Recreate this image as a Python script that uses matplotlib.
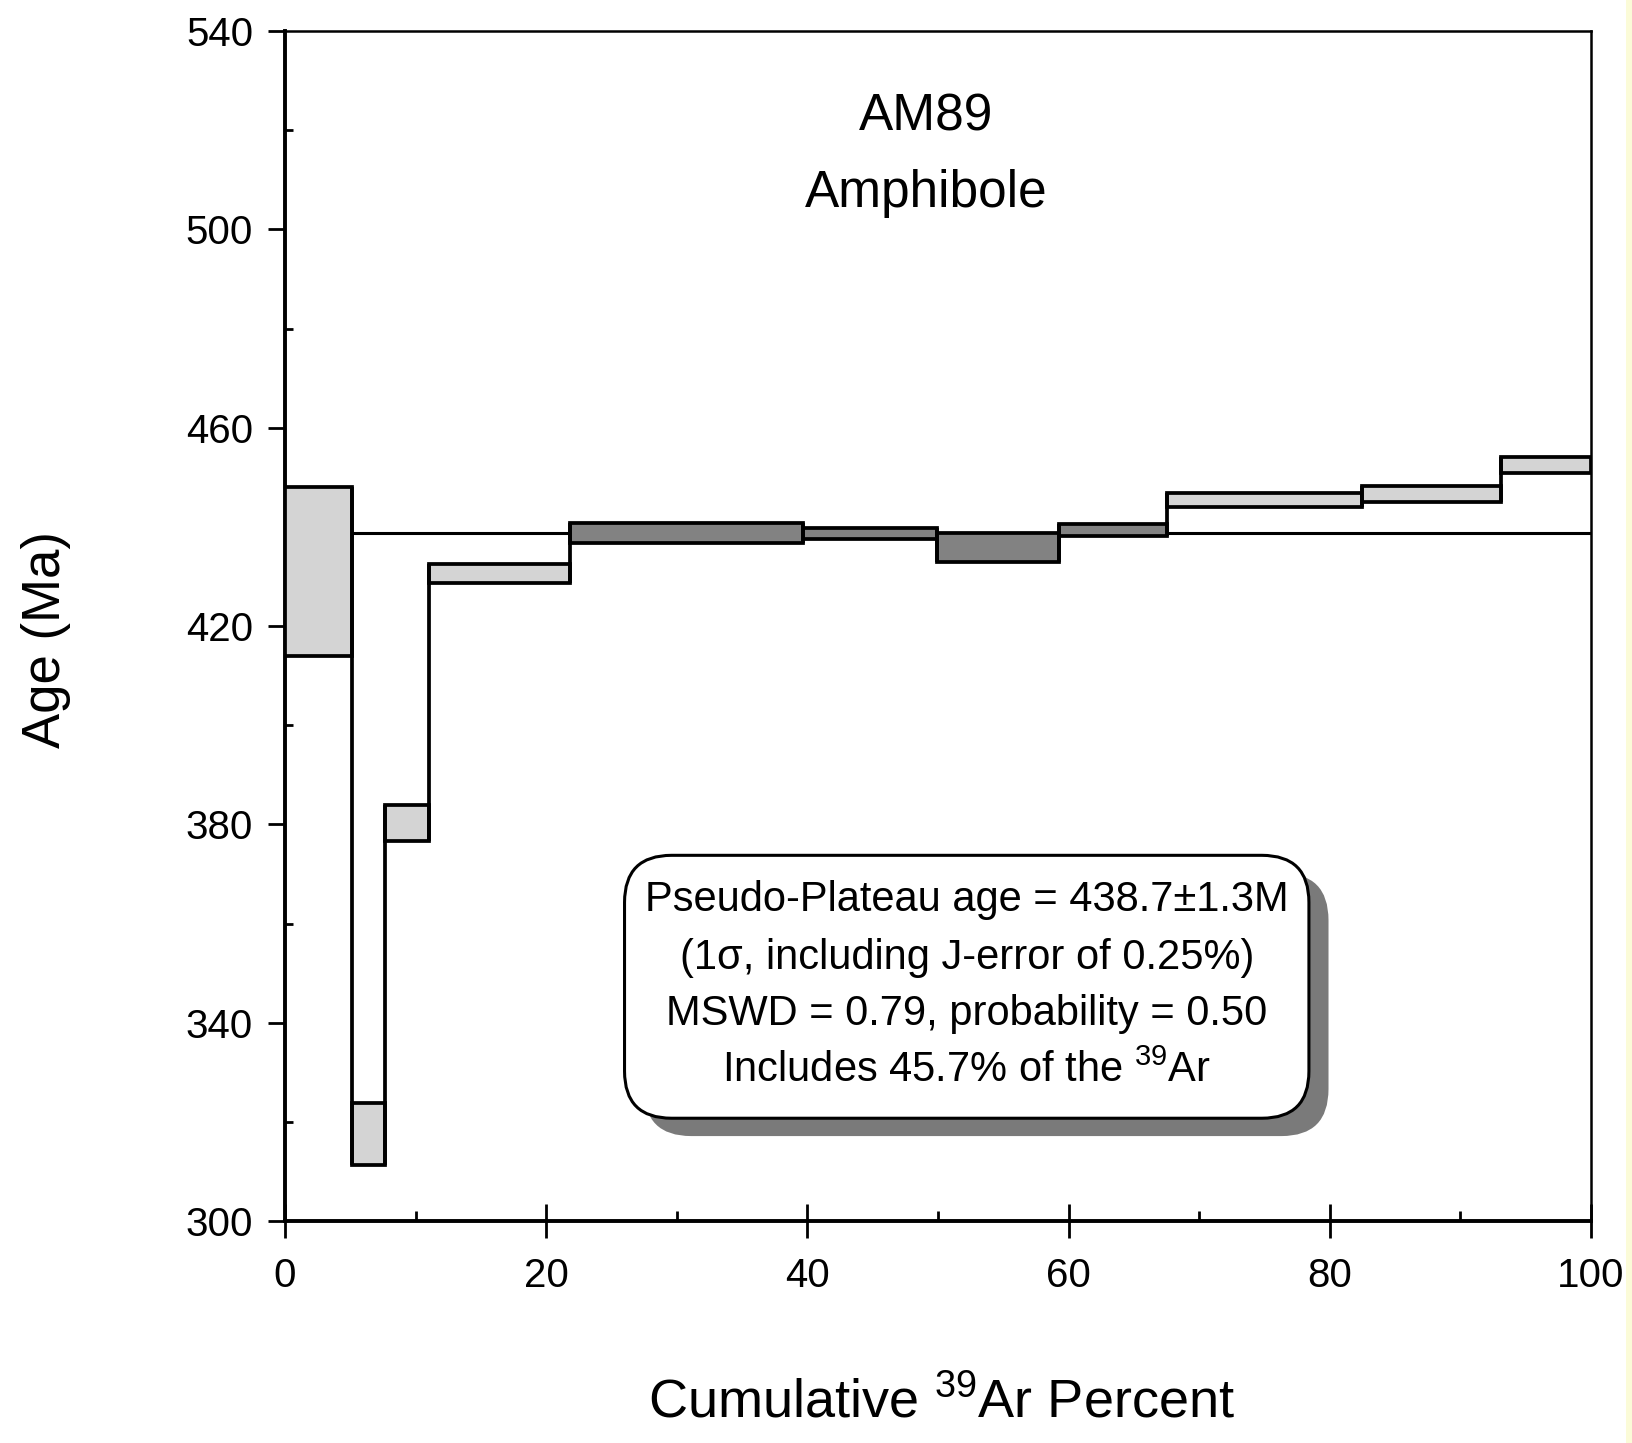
import numpy as np
import matplotlib
matplotlib.use("Agg")
import matplotlib.pyplot as plt
from matplotlib.patches import Rectangle, FancyBboxPatch

plt.rcParams['font.family'] = ['Liberation Sans', 'DejaVu Sans']
plt.rcParams['mathtext.default'] = 'regular'

# step heating data
x_edges = [0, 5.1, 7.66, 11.05, 21.8, 39.7, 49.9, 59.3, 67.5, 82.5, 93.1, 100]
age_hi = [448.0, 323.8, 384.0, 432.6, 440.8, 439.8, 438.8, 440.6, 446.8, 448.2, 454.1]
age_lo = [414.0, 311.3, 376.6, 428.7, 436.8, 437.6, 433.0, 438.1, 444.0, 445.0, 450.8]
in_plateau = [False, False, False, False, True, True, True, True, False, False, False]
plateau_age = 438.7

sample_name = "AM89"
mineral = "Amphibole"
box_lines = ["Pseudo-Plateau age = 438.7±1.3M",
             "(1σ, including J-error of 0.25%)",
             "MSWD = 0.79, probability = 0.50",
             "Includes 45.7% of the $^{39}$Ar"]

light = "#d4d4d4"
dark = "#828282"

fig = plt.figure(figsize=(16.32, 14.43), dpi=100)
ax = fig.add_axes([0.1746, 0.1538, 0.8003, 0.8247])
ax.set_xlim(0, 100)
ax.set_ylim(300, 540)

# plateau line
ax.axhline(plateau_age, color="black", lw=2.2, zorder=2)

for i in range(len(age_hi)):
    x0 = x_edges[i]
    w = x_edges[i + 1] - x_edges[i]
    col = dark if in_plateau[i] else light
    ax.add_patch(Rectangle((x0, age_lo[i]), w, age_hi[i] - age_lo[i],
                           facecolor=col, edgecolor="black", lw=2.7, zorder=3))
# connectors between steps
for i in range(len(age_hi) - 1):
    lo = min(age_lo[i], age_lo[i + 1])
    hi = max(age_hi[i], age_hi[i + 1])
    ax.vlines(x_edges[i + 1], lo, hi, color="black", lw=2.7, zorder=3)

# title text
ax.text(49.1, 522.7, sample_name, ha="center", va="center", fontsize=37)
ax.text(49.1, 507.3, mineral, ha="center", va="center", fontsize=37)

# rounded text box with shadow
bx0, bx1 = 27.2, 77.2
by0, by1 = 323.9, 370.6
asp = 13.06 / 4.958
shadow = FancyBboxPatch((bx0 + 1.5, by0 - 3.6), bx1 - bx0, by1 - by0,
                        boxstyle="round,pad=1.2,rounding_size=3.6",
                        mutation_aspect=asp, facecolor="#7a7a7a",
                        edgecolor="none", zorder=4)
box = FancyBboxPatch((bx0, by0), bx1 - bx0, by1 - by0,
                     boxstyle="round,pad=1.2,rounding_size=3.6",
                     mutation_aspect=asp, facecolor="white",
                     edgecolor="black", lw=2.2, zorder=5)
ax.add_patch(shadow)
ax.add_patch(box)
line_y = [364.7, 353.0, 341.7, 330.4]
for s, yy in zip(box_lines, line_y):
    ax.text(52.2, yy, s, ha="center", va="center", fontsize=30, zorder=6)

# axes styling
ax.set_yticks(np.arange(300, 541, 40))
ax.set_yticks(np.arange(320, 540, 40), minor=True)
ax.set_xticks(np.arange(0, 101, 20))
ax.set_xticks(np.arange(10, 100, 20), minor=True)
ax.tick_params(axis="y", which="major", direction="out", length=12, width=2,
               labelsize=29, pad=11)
ax.tick_params(axis="y", which="minor", direction="in", length=6, width=2)
ax.tick_params(axis="x", which="major", direction="inout", length=24, width=2,
               labelsize=29, pad=14)
ax.tick_params(axis="x", which="minor", direction="in", length=7, width=2)
ax.spines["left"].set_linewidth(2.8)
ax.spines["bottom"].set_linewidth(2.8)
ax.spines["top"].set_linewidth(1.8)
ax.spines["right"].set_linewidth(1.8)

fig.text(0.028, 0.557, "Age (Ma)", rotation=90, ha="center", va="center",
         fontsize=38)
fig.text(0.577, 0.028, "Cumulative $^{39}$Ar Percent", ha="center",
         va="center", fontsize=39)

# thin yellowish strip at the right edge
fig.patches.append(Rectangle((0.9965, 0), 0.0035, 1, transform=fig.transFigure,
                             facecolor="#fbfbd8", edgecolor="none"))

fig.savefig("out.png", dpi=100)
